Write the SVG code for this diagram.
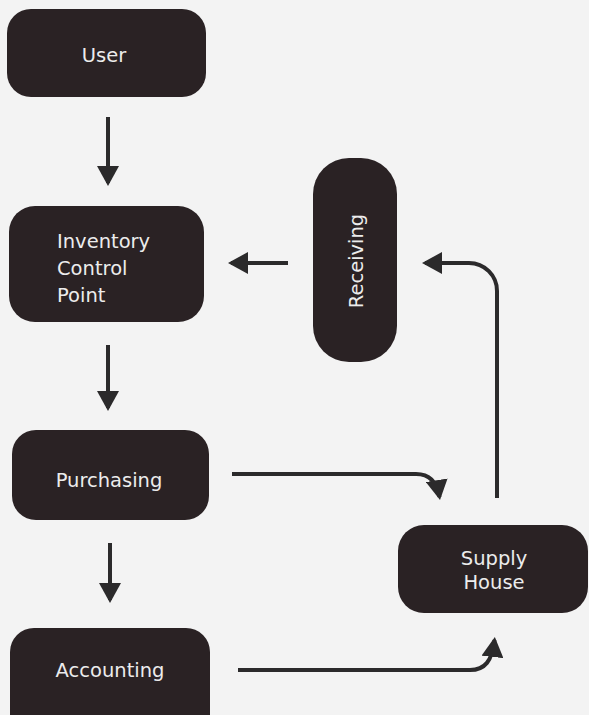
<svg xmlns="http://www.w3.org/2000/svg" width="589" height="715" viewBox="0 0 589 715">
  <style>
    .box { fill: #2a2224; }
    .lbl { font-family: "DejaVu Sans", "Liberation Sans", sans-serif; font-size: 19.5px; fill: #ececec; }
    .mid { text-anchor: middle; }
    .conn { fill: none; stroke: #2b2a2b; stroke-width: 4; }
  </style>
  <defs>
    <marker id="ah" viewBox="0 0 20 22" refX="17" refY="11" markerWidth="20" markerHeight="22" markerUnits="userSpaceOnUse" orient="auto">
      <path d="M0,0 L20,11 L0,22 z" fill="#2b2a2b"/>
    </marker>
  </defs>
  <rect width="589" height="715" fill="#f3f3f3"/>

  <g id="user">
    <rect class="box" x="7" y="9" width="199" height="88" rx="24"/>
    <text class="lbl mid" x="104" y="62">User</text>
  </g>
  <g id="inventory-control-point">
    <rect class="box" x="9" y="206" width="195" height="116" rx="26"/>
    <text class="lbl" x="57" y="248">Inventory</text>
    <text class="lbl" x="57" y="275">Control</text>
    <text class="lbl" x="57" y="302">Point</text>
  </g>
  <g id="receiving">
    <rect class="box" x="313" y="158" width="84" height="204" rx="36"/>
    <text class="lbl mid" transform="translate(357,261) rotate(-90)" x="0" y="6">Receiving</text>
  </g>
  <g id="purchasing">
    <rect class="box" x="12" y="430" width="197" height="90" rx="24"/>
    <text class="lbl mid" x="109" y="487">Purchasing</text>
  </g>
  <g id="supply-house">
    <rect class="box" x="398" y="525" width="190" height="88" rx="26"/>
    <text class="lbl mid" x="494" y="565">Supply</text>
    <text class="lbl mid" x="494" y="589">House</text>
  </g>
  <g id="accounting">
    <rect class="box" x="10" y="628" width="200" height="110" rx="24"/>
    <text class="lbl mid" x="110" y="677">Accounting</text>
  </g>

  <g id="connectors">
    <path class="conn" d="M108,117 V183" marker-end="url(#ah)"/>
    <path class="conn" d="M108,345 V408" marker-end="url(#ah)"/>
    <path class="conn" d="M110,543 V600" marker-end="url(#ah)"/>
    <path class="conn" d="M288,263 H231" marker-end="url(#ah)"/>
    <path class="conn" d="M497,498 V291 A28,28 0 0 0 469,263 H425" marker-end="url(#ah)"/>
    <path class="conn" d="M232,474 H416 C430,474 437,482 439.5,497" marker-end="url(#ah)"/>
    <path class="conn" d="M238,670 H470 C485,670 492,661 494.5,640" marker-end="url(#ah)"/>
  </g>
</svg>
